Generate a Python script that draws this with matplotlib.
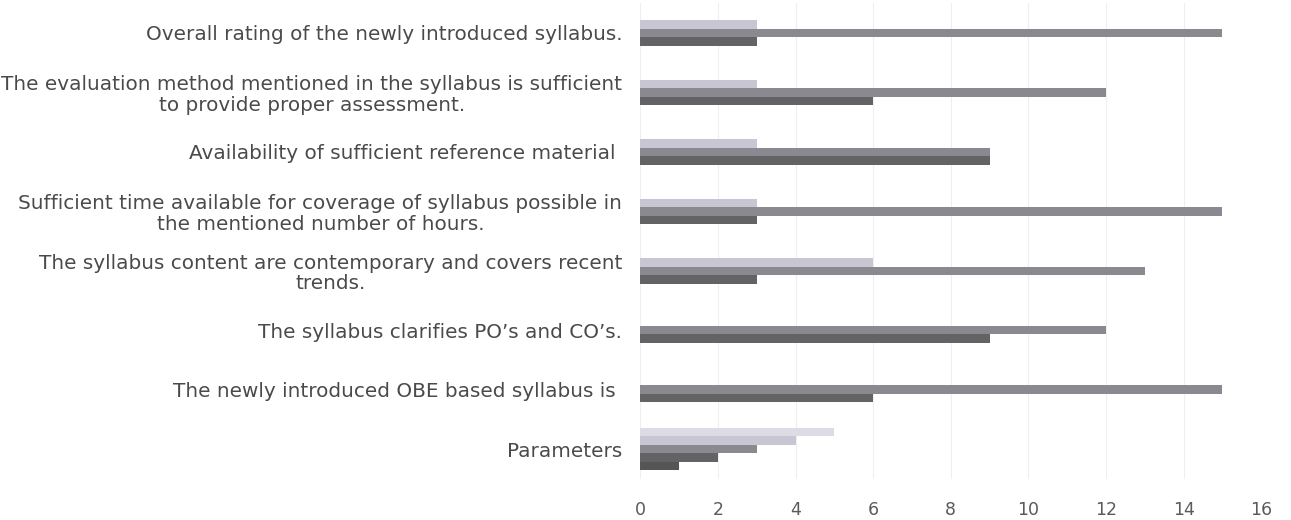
import numpy as np
import matplotlib
matplotlib.use("Agg")
from matplotlib import pyplot as plt

# categories listed bottom to top, as the bars are stacked on the y axis
questions = [
    "Parameters",
    "The newly introduced OBE based syllabus is ",
    "The syllabus clarifies PO\u2019s and CO\u2019s.",
    "The syllabus content are contemporary and covers recent\ntrends.",
    "Sufficient time available for coverage of syllabus possible in\nthe mentioned number of hours.",
    "Availability of sufficient reference material ",
    "The evaluation method mentioned in the syllabus is sufficient\nto provide proper assessment.",
    "Overall rating of the newly introduced syllabus.",
]

# responses per rating column (1..5), one value per question above
r1 = [1, 0, 0, 0, 0, 0, 0, 0]
r2 = [2, 6, 9, 3, 3, 9, 6, 3]
r3 = [3, 15, 12, 13, 15, 9, 12, 15]
r4 = [4, 0, 0, 6, 3, 3, 3, 3]
r5 = [5, 0, 0, 0, 0, 0, 0, 0]

series = [r1, r2, r3, r4, r5]
colors = ["#555558", "#636366", "#8a8990", "#c8c6d3", "#dcdbe6"]

xticks = [0, 2, 4, 6, 8, 10, 12, 14, 16]

plt.rcParams["font.family"] = ["DejaVu Sans"]

fig = plt.figure(figsize=(12.91, 5.20), dpi=100)
ax = fig.add_axes([0.496, 0.079, 0.481, 0.915])

y = np.arange(len(questions))
h = 0.143
for i, vals in enumerate(series):
    off = (i - 2) * h
    ax.barh(y + off, vals, height=h, color=colors[i], linewidth=0)

ax.set_xlim(0, 16)
ax.set_ylim(-0.5, len(questions) - 0.5)
ax.set_xticks(xticks)
ax.set_xticklabels([str(t) for t in xticks])
ax.set_yticks(y)
ax.set_yticklabels(questions)
for lbl in ax.get_yticklabels():
    lbl.set_multialignment("center")
    lbl.set_linespacing(1.1)

ax.tick_params(axis="y", length=0, pad=13, labelsize=14.4, labelcolor="#4a4a4a")
ax.tick_params(axis="x", length=0, pad=16, labelsize=12.5, labelcolor="#5a5a5a")
ax.grid(axis="x", color="#efefef", linewidth=0.8)
ax.set_axisbelow(True)
for s in ax.spines.values():
    s.set_visible(False)

fig.savefig("out.png", dpi=100)
